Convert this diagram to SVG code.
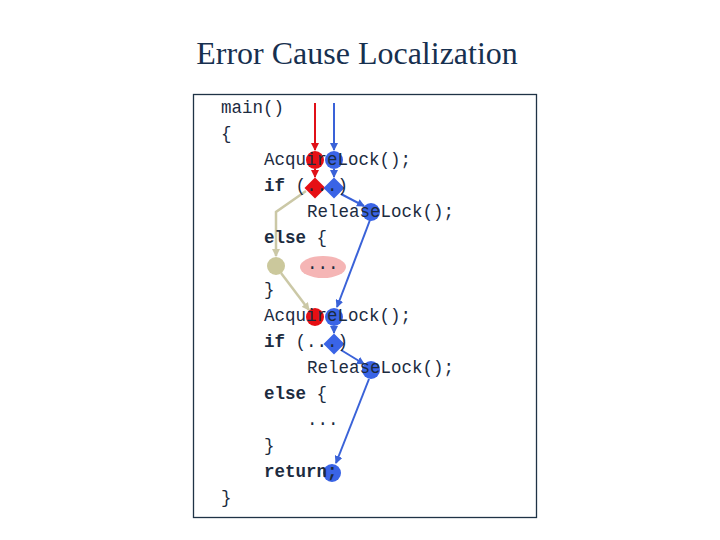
<svg xmlns="http://www.w3.org/2000/svg" width="720" height="540" viewBox="0 0 720 540">
<style>
.code{font-family:"Liberation Mono","Courier New",monospace;font-size:17.5px;fill:#1c2b3f;}
.kw{font-weight:bold;}
.title{font-family:"Liberation Serif","Times New Roman",serif;font-size:32px;fill:#17304f;}
.red{fill:#e60f14;}
.blue{fill:#3a64e6;}
.beige{fill:#cbc89c;}
.lr{stroke:#e01018;stroke-width:2;fill:none;marker-end:url(#ar);}
.lb{stroke:#3a62d8;stroke-width:2;fill:none;marker-end:url(#ab);}
.lg{stroke:#cbc8a6;stroke-width:2.5;fill:none;marker-end:url(#ag);}
</style>
<defs>
<marker id="ar" markerWidth="8" markerHeight="8" refX="7" refY="4" orient="auto" markerUnits="userSpaceOnUse"><path d="M0,0 L8,4 L0,8 Z" fill="#e01018"/></marker>
<marker id="ab" markerWidth="8" markerHeight="8" refX="7" refY="4" orient="auto" markerUnits="userSpaceOnUse"><path d="M0,0 L8,4 L0,8 Z" fill="#3a62d8"/></marker>
<marker id="ag" markerWidth="8" markerHeight="8" refX="7" refY="4" orient="auto" markerUnits="userSpaceOnUse"><path d="M0,0 L8,4 L0,8 Z" fill="#cbc8a6"/></marker>
</defs>
<rect width="720" height="540" fill="#ffffff"/>
<text class="title" x="357" y="64" text-anchor="middle">Error Cause Localization</text>
<rect x="193.5" y="94.5" width="343" height="423" fill="#ffffff" stroke="#1f3346" stroke-width="1.3"/>
<g id="highlight"><ellipse cx="323" cy="267" rx="23" ry="11" fill="#f5b5b5"/></g>
<g id="connectors">
<line class="lr" x1="315" y1="103" x2="315" y2="150"/>
<line class="lb" x1="334" y1="103" x2="334" y2="150"/>
<line class="lr" x1="315" y1="169" x2="315" y2="177"/>
<line class="lb" x1="334" y1="169" x2="334" y2="177"/>
<line class="lb" x1="341" y1="194" x2="364" y2="206"/>
<polyline class="lg" points="306,191 276,212 276,256"/>
<line class="lg" x1="281" y1="273" x2="309" y2="310"/>
<line class="lb" x1="370" y1="220" x2="337" y2="307"/>
<line class="lb" x1="334" y1="326" x2="334" y2="333"/>
<line class="lb" x1="341" y1="350" x2="364" y2="364"/>
<line class="lb" x1="369" y1="379" x2="336" y2="463"/>
</g>
<g id="n1"><circle class="red" cx="315" cy="160" r="9"/></g>
<g id="n2"><circle class="blue" cx="334" cy="160" r="9"/></g>
<g id="n3"><polygon class="red" points="315,177.5 325.5,188 315,198.5 304.5,188"/></g>
<g id="n4"><polygon class="blue" points="334,177.5 344.5,188 334,198.5 323.5,188"/></g>
<g id="n5"><circle class="blue" cx="371" cy="212" r="9"/></g>
<g id="n6"><circle class="beige" cx="276" cy="266" r="9"/></g>
<g id="n7"><circle class="red" cx="315" cy="317" r="9"/></g>
<g id="n8"><circle class="blue" cx="334" cy="317" r="9"/></g>
<g id="n9"><polygon class="blue" points="334,333.5 344.5,344 334,354.5 323.5,344"/></g>
<g id="n10"><circle class="blue" cx="371" cy="370" r="9"/></g>
<g id="n11"><circle class="blue" cx="332" cy="473" r="9"/></g>
<g id="code">
<text class="code" x="221" y="113">main()</text>
<text class="code" x="221" y="139">{</text>
<text class="code" x="264" y="165">AcquireLock();</text>
<text class="code" x="264" y="191"><tspan class="kw">if</tspan> (...)</text>
<text class="code" x="307" y="217">ReleaseLock();</text>
<text class="code" x="264" y="243"><tspan class="kw">else</tspan> {</text>
<text class="code" x="307" y="269">...</text>
<text class="code" x="264" y="295">}</text>
<text class="code" x="264" y="321">AcquireLock();</text>
<text class="code" x="264" y="347"><tspan class="kw">if</tspan> (...)</text>
<text class="code" x="307" y="373">ReleaseLock();</text>
<text class="code" x="264" y="399"><tspan class="kw">else</tspan> {</text>
<text class="code" x="307" y="425">...</text>
<text class="code" x="264" y="451">}</text>
<text class="code kw" x="264" y="477">return;</text>
<text class="code" x="221" y="503">}</text>
</g>
</svg>
